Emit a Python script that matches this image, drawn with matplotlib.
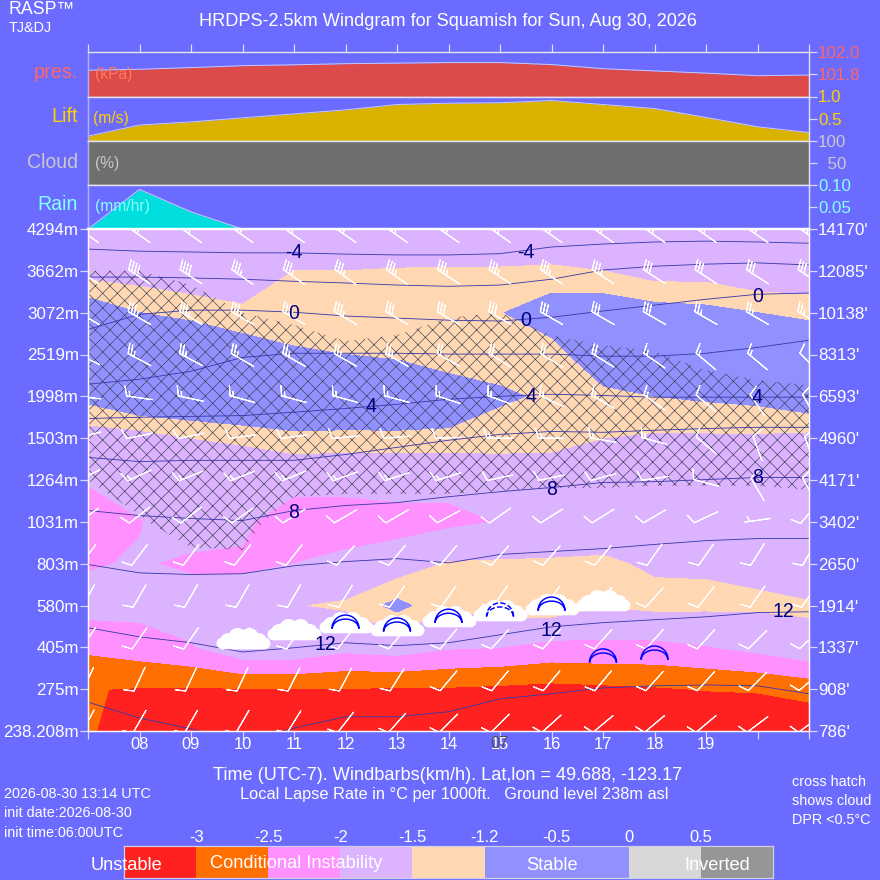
import numpy as np
import matplotlib
matplotlib.use('Agg')
import matplotlib.pyplot as plt
from matplotlib.path import Path
from matplotlib.transforms import Affine2D

hours = [7, 8, 9, 10, 11, 12, 13, 14, 15, 16, 17, 18, 19, 20, 21]
level_index = [0, 1, 2, 3, 4, 5, 6, 7, 8, 9, 10, 11, 12]
height_m = ['238.208m', '275m', '405m', '580m', '803m', '1031m', '1264m', '1503m', '1998m', '2519m', '3072m', '3662m', '4294m']
height_ft = ["786'", "908'", "1337'", "1914'", "2650'", "3402'", "4171'", "4960'", "6593'", "8313'", "10138'", "12085'", "14170'"]
hour_labels = ['', '08', '09', '10', '11', '12', '13', '14', '15', '16', '17', '18', '19', '', '']

pressure = [101.836, 101.845, 101.86, 101.877, 101.885, 101.895, 101.9, 101.905, 101.905, 101.887, 101.85, 101.83, 101.81, 101.787, 101.793]
lift = [0.11, 0.36, 0.43, 0.52, 0.61, 0.70, 0.82, 0.85, 0.86, 0.91, 0.82, 0.73, 0.53, 0.32, 0.19]
cloud = [100, 100, 100, 100, 100, 100, 100, 100, 100, 100, 100, 100, 100, 100, 100]
rain = [0.0, 0.09, 0.039, 0.0, 0.0, 0.0, 0.0, 0.0, 0.0, 0.0, 0.0, 0.0, 0.0, 0.0, 0.0]

# lapse rate, one list per hour, lowest level first
lapse_07 = [-2.9, -2.98, -2.4, -1.8, -2.05, -2.2, -1.97, -1.69, -1.09, -0.9, -0.95, -1.65, -1.8]
lapse_08 = [-3.5, -3.03, -2.25, -1.83, -1.95, -2.03, -1.75, -1.66, -0.82, -0.8, -1.2, -1.68, -1.8]
lapse_09 = [-3.5, -3.05, -2.05, -1.7, -2.1, -1.73, -1.7, -1.5, -0.8, -1.0, -1.25, -1.83, -1.9]
lapse_10 = [-3.5, -3.02, -1.6, -1.7, -2.1, -1.87, -1.75, -1.45, -0.65, -0.95, -1.45, -1.7, -1.9]
lapse_11 = [-3.5, -3.02, -1.6, -1.52, -2.0, -2.4, -1.75, -1.35, -0.5, -1.15, -1.4, -1.5, -1.8]
lapse_12 = [-3.5, -3.02, -1.85, -1.45, -1.85, -2.3, -1.8, -1.35, -0.6, -1.2, -1.4, -1.5, -1.8]
lapse_13 = [-3.5, -3.05, -1.75, -1.1, -1.73, -2.2, -1.78, -1.36, -0.52, -1.3, -1.4, -1.48, -1.8]
lapse_14 = [-3.5, -3.05, -1.95, -1.45, -1.47, -2.1, -1.88, -1.3, -0.9, -1.45, -1.4, -1.47, -1.8]
lapse_15 = [-3.5, -3.1, -2.0, -1.3, -1.45, -1.99, -1.75, -1.36, -1.15, -1.35, -1.22, -1.47, -1.8]
lapse_16 = [-3.5, -3.15, -2.15, -1.25, -1.47, -1.7, -1.7, -1.4, -1.25, -1.35, -0.98, -1.45, -1.8]
lapse_17 = [-3.5, -3.1, -2.13, -1.48, -1.45, -1.7, -1.7, -1.5, -1.3, -0.9, -0.95, -1.5, -1.85]
lapse_18 = [-3.5, -3.05, -2.13, -1.4, -1.55, -1.7, -1.7, -1.55, -1.2, -0.85, -1.05, -1.66, -1.9]
lapse_19 = [-3.5, -2.98, -2.03, -1.42, -1.55, -1.7, -1.7, -1.55, -1.15, -0.9, -1.1, -1.65, -1.9]
lapse_20 = [-3.5, -2.95, -1.85, -1.44, -1.6, -1.7, -1.7, -1.55, -1.1, -0.9, -1.2, -1.8, -1.95]
lapse_21 = [-3.4, -2.82, -1.6, -1.46, -1.8, -1.8, -1.75, -1.6, -0.93, -0.95, -1.26, -1.82, -2.0]
lapse_cols = [lapse_07, lapse_08, lapse_09, lapse_10, lapse_11, lapse_12, lapse_13, lapse_14,
              lapse_15, lapse_16, lapse_17, lapse_18, lapse_19, lapse_20, lapse_21]

# dew point spread, under 0.5 is hatched
dpr_cols = [
    [1, 1, 1, 1, 1, 1, 0.5, 0, 0, 0, 0, 0.5, 1],
    [1, 1, 1, 1, 1, 0.6, 0, 0, 0, 0, 0, 0.5, 1],
    [1, 1, 1, 1, 0.82, 0, 0, 0, 0, 0, 0, 0.75, 1],
    [1, 1, 1, 1, 0.74, 0, 0, 0, 0, 0, 0.5, 1, 1],
    [1, 1, 1, 1, 1, 1.25, 0, 0, 0, 0, 0.71, 1, 1],
    [1, 1, 1, 1, 1, 1.5, 0, 0, 0, 0, 1.56, 2, 2],
    [1, 1, 1, 1, 1, 1.5, 0, 0, 0, 0, 1.08, 2, 2],
    [1, 1, 1, 1, 1, 1.5, 0, 0, 0, 0, 0.57, 2, 2],
    [1, 1, 1, 1, 1, 1.9, 0, 0, 0, 0, 0.5, 2, 2],
    [1, 1, 1, 1, 1, 2.6, 0, 0, 0, 0, 1.1, 2, 2],
    [1, 1, 1, 1, 1, 2.6, 0, 0, 0, 0, 2.3, 2, 2],
    [1, 1, 1, 1, 1, 3.6, 0, 0, 0, 0.45, 1, 2, 2],
    [1, 1, 1, 1, 1, 3.6, 0, 0, 0, 0.8, 1, 2, 2],
    [1, 1, 1, 1, 1, 3.6, 0, 0, 0, 1.3, 2, 2, 2],
    [1, 1, 1, 1, 1, 2.1, 0, 0, 0, 1.9, 2, 2, 2],
]

# isotherm height on the level axis, per hour
iso_m4 = [11.52, 11.47, 11.45, 11.43, 11.43, 11.40, 11.38, 11.38, 11.41, 11.57, 11.64, 11.69, 11.71, 11.69, 11.66]
iso_m2 = [10.85, 10.85, 10.83, 10.80, 10.75, 10.71, 10.66, 10.63, 10.66, 10.80, 11.02, 11.11, 11.16, 11.19, 11.14]
iso_0 = [9.60, 9.96, 10.06, 10.06, 10.01, 9.92, 9.87, 9.82, 9.80, 9.89, 10.04, 10.18, 10.32, 10.44, 10.47]
iso_2 = [8.29, 8.41, 8.60, 8.93, 9.03, 9.03, 9.03, 9.01, 9.01, 9.01, 8.96, 8.96, 9.03, 9.17, 9.34]
iso_4 = [7.47, 7.50, 7.52, 7.54, 7.62, 7.71, 7.81, 7.93, 8.00, 8.05, 8.02, 7.98, 7.98, 7.98, 7.98]
iso_6 = [6.54, 6.44, 6.47, 6.47, 6.47, 6.61, 6.78, 6.95, 7.09, 7.16, 7.14, 7.19, 7.23, 7.26, 7.26]
iso_8 = [5.27, 5.15, 5.08, 5.03, 5.27, 5.39, 5.46, 5.60, 5.72, 5.82, 5.94, 5.96, 6.01, 6.06, 6.06]
iso_10 = [3.98, 3.78, 3.74, 3.76, 3.95, 4.05, 4.12, 4.02, 4.22, 4.29, 4.36, 4.46, 4.55, 4.60, 4.60]
iso_12 = [2.47, 2.25, 2.11, 1.89, 1.99, 2.11, 2.04, 2.11, 2.30, 2.49, 2.59, 2.66, 2.73, 2.83, 2.85]
iso_14 = [0.69, 0.31, 0.05, -0.26, 0.07, 0.34, 0.34, 0.46, 0.77, 0.89, 1.03, 1.08, 1.10, 1.08, 0.89]
isotherms = [iso_m4, iso_m2, iso_0, iso_2, iso_4, iso_6, iso_8, iso_10, iso_12, iso_14]

iso_label_text = ['-4', '-4', '0', '0', '0', '4', '4', '4', '8', '8', '8', '12', '12', '12']
iso_label_hour = [11, 15.5, 11, 15.5, 20, 12.5, 15.6, 20, 11, 16, 20, 11.6, 16, 20.5]
iso_label_level = [11.43, 11.45, 9.97, 9.82, 10.39, 7.76, 8.0, 7.97, 5.22, 5.77, 6.06, 2.06, 2.40, 2.85]

# wind from direction (deg) and speed (km/h), one row per level, one value per hour
wind_dir = [
    [208, 210, 210, 210, 212, 218, 222, 225, 225, 228, 230, 230, 230, 233, 233],
    [205, 205, 205, 205, 207, 208, 212, 220, 220, 220, 220, 222, 222, 225, 230],
    [215, 215, 215, 215, 215, 218, 220, 220, 222, 222, 222, 222, 222, 225, 228],
    [210, 210, 210, 210, 210, 212, 215, 215, 215, 218, 222, 222, 218, 215, 215],
    [217, 217, 217, 218, 218, 222, 220, 220, 222, 222, 220, 215, 215, 212, 210],
    [235, 232, 232, 235, 238, 240, 240, 242, 235, 238, 238, 240, 245, 262, 220],
    [245, 245, 248, 248, 248, 250, 252, 252, 258, 258, 255, 262, 285, 330, 330],
    [255, 258, 258, 262, 262, 265, 265, 268, 270, 270, 280, 285, 310, 340, 340],
    [276, 278, 282, 285, 285, 285, 285, 288, 290, 295, 300, 305, 310, 325, 330],
    [295, 298, 298, 300, 300, 300, 300, 300, 302, 302, 302, 305, 310, 310, 315],
    [300, 300, 300, 300, 300, 300, 300, 300, 300, 300, 300, 300, 300, 300, 300],
    [303, 303, 303, 305, 305, 305, 305, 303, 303, 303, 303, 303, 303, 303, 303],
    [305, 305, 305, 305, 305, 305, 305, 305, 305, 305, 305, 305, 305, 305, 305],
]
wind_speed = [
    [10, 10, 10, 10, 10, 10, 10, 10, 10, 10, 10, 10, 10, 10, 10],
    [10, 10, 10, 10, 10, 10, 10, 10, 10, 10, 10, 10, 10, 10, 10],
    [10, 10, 10, 10, 10, 10, 10, 10, 10, 10, 10, 10, 10, 10, 10],
    [10, 10, 10, 10, 10, 10, 10, 10, 10, 10, 10, 10, 10, 10, 10],
    [10, 10, 10, 10, 10, 10, 10, 10, 10, 10, 10, 10, 10, 10, 10],
    [10, 10, 10, 10, 10, 10, 10, 10, 10, 10, 10, 10, 10, 5, 10],
    [10, 15, 15, 15, 15, 15, 15, 15, 10, 10, 10, 10, 10, 10, 10],
    [10, 10, 10, 10, 10, 10, 10, 10, 15, 15, 15, 15, 10, 10, 10],
    [15, 15, 15, 15, 15, 15, 15, 15, 15, 15, 15, 15, 10, 10, 10],
    [25, 25, 25, 25, 25, 25, 25, 20, 20, 20, 20, 15, 15, 15, 10],
    [35, 35, 35, 35, 35, 35, 30, 30, 30, 30, 30, 30, 25, 25, 25],
    [40, 40, 40, 35, 35, 35, 35, 35, 35, 35, 35, 30, 30, 30, 30],
    [35, 35, 35, 35, 35, 35, 35, 35, 35, 35, 35, 35, 35, 35, 35],
]

cloud_hours = [10, 11, 12, 13, 14, 15, 16, 17]
cloud_levels = [2.23, 2.44, 2.61, 2.54, 2.75, 2.90, 3.04, 3.14]
wave_hours = [12, 13, 14, 16, 17, 18]
wave_levels = [2.61, 2.54, 2.75, 3.04, 1.80, 1.87]
dashed_wave_hours = [15]
dashed_wave_levels = [2.90]

lapse_levels = [-5, -3, -2.5, -2, -1.5, -1.2, 0, 0.5, 2]
lapse_colors = ['#FF2020', '#FF6E00', '#FF90FF', '#DBB3FF', '#FFD8B3', '#9090FF', '#D8D8D8', '#969696']
legend_ticks = ['-3', '-2.5', '-2', '-1.5', '-1.2', '-0.5', '0', '0.5']
legend_colors = ['#FF2020', '#FF6E00', '#FF90FF', '#DBB3FF', '#FFD8B3', '#9090FF', '#9090FF', '#D8D8D8', '#969696']

BG = '#6B6BFF'
TICK_SIZE = 13.9
plt.rcParams['font.family'] = ['Liberation Sans', 'DejaVu Sans']
plt.rcParams['hatch.color'] = '#3A3A50'
plt.rcParams['hatch.linewidth'] = 0.5

fig = plt.figure(figsize=(10, 10), dpi=88, facecolor=BG)


def add_panel(left, top, right, bottom):
    return fig.add_axes([left / 880, 1 - bottom / 880, (right - left) / 880, (bottom - top) / 880])


def put_text(x, y, s, size, color='white', ha='left'):
    fig.text(x / 880, 1 - y / 880, s, fontsize=size, color=color, ha=ha, va='center')


def strip(top, bottom, values, ylim, ticks, ticklabels, fill, textcolor):
    ax = add_panel(88, top, 809, bottom)
    ax.set_facecolor(BG)
    ax.fill_between(hours, ylim[0], values, color=fill, lw=0)
    ax.plot(hours, values, color='#C8C8FF', lw=0.8)
    ax.set_xlim(7, 21)
    ax.set_ylim(ylim)
    ax.set_xticks([])
    ax.yaxis.tick_right()
    ax.set_yticks(ticks)
    ax.set_yticklabels(ticklabels, color=textcolor, fontsize=TICK_SIZE)
    ax.tick_params(axis='y', length=6.5, width=1, color='#D8D8FF', pad=1)
    for side in ['top', 'bottom', 'left', 'right']:
        ax.spines[side].set_color('#E0E0F0')
        ax.spines[side].set_linewidth(1.2)
    ax.spines['left'].set_color('#B0B0F0')
    return ax


red_txt = '#FF6666'
gold_txt = '#FFD000'
grey_txt = '#C8C8C8'
cyan_txt = '#88FFFF'

ax_p = strip(52, 96.5, pressure, (101.6, 102.0), [102.0, 101.8], ['102.0', '101.8'], '#DD4A4A', red_txt)
ax_l = strip(96.5, 141, lift, (0, 1), [1.0, 0.5], ['1.0', '0.5'], '#D9B300', gold_txt)
ax_c = strip(141, 185, cloud, (0, 100), [100, 50], ['100', '  50'], '#6E6E6E', grey_txt)
ax_r = strip(185, 229, rain, (0, 0.1), [0.10, 0.05], ['0.10', '0.05'], '#00DDDD', cyan_txt)

ax_p.xaxis.tick_top()
ax_p.set_xticks(hours)
ax_p.set_xticklabels([])
ax_p.tick_params(axis='x', length=6.5, width=1, color='#E0E0F0')

put_text(78, 72, 'pres.', 16.3, red_txt, 'right')
put_text(78, 117, 'Lift', 16.3, gold_txt, 'right')
put_text(78, 162, 'Cloud', 16, grey_txt, 'right')
put_text(78, 205, 'Rain', 16, cyan_txt, 'right')
put_text(95, 74, '(kPa)', 12.8, '#FF7A5A')
put_text(93, 119, '(m/s)', 12.8, gold_txt)
put_text(95, 163, '(%)', 12.8, grey_txt)
put_text(95, 207, '(mm/hr)', 12.8, cyan_txt)

# main time/height panel
ax = add_panel(88, 229, 809, 731)
ax.set_facecolor(BG)
lapse = np.array(lapse_cols).T
ax.contourf(hours, level_index, lapse, levels=lapse_levels, colors=lapse_colors)
ax.contourf(hours, level_index, np.array(dpr_cols).T, levels=[-1, 0.5], colors='none', hatches=['xx'])

for iso in isotherms:
    ax.plot(hours, iso, color='#3838A8', lw=0.7)

# barbs are centred on the hour, and shifted so the feathered end sits near the level
dir_rad = np.radians(wind_dir)
spd = np.array(wind_speed, dtype=float)
u = -spd * np.sin(dir_rad)
v = -spd * np.cos(dir_rad)
grid_x, grid_y = np.meshgrid(hours, level_index)
ax.barbs(grid_x, grid_y + 0.26 * v / spd, u, v, pivot='middle', length=6.5, color='white', linewidth=0.9,
         sizes=dict(spacing=0.13, height=0.38, width=0.25), zorder=4)

cloud_marker = Path.make_compound_path(
    Path.circle((-0.78, -0.18), 0.22), Path.circle((-0.58, -0.08), 0.28), Path.circle((-0.22, 0.05), 0.34),
    Path.circle((0.22, 0.05), 0.34), Path.circle((0.58, -0.08), 0.28), Path.circle((0.78, -0.18), 0.22),
    Path.unit_rectangle().transformed(Affine2D().scale(1.56, 0.4).translate(-0.78, -0.4)))
ax.scatter(cloud_hours, cloud_levels, marker=cloud_marker, s=1950, c='white', linewidths=0, zorder=5)

arc = Path.arc(0, 180)
wave_marker = Path.make_compound_path(
    arc.transformed(Affine2D().translate(0, -0.5)),
    arc.transformed(Affine2D().scale(0.98, 0.7).translate(0, -0.5)))
ax.scatter(wave_hours, wave_levels, marker=wave_marker, s=490, facecolors='none', edgecolors='#0000FF', linewidths=1.2, zorder=6)
ax.scatter(dashed_wave_hours, dashed_wave_levels, marker=wave_marker, s=490, facecolors='none', edgecolors='#0000FF',
           linewidths=1.2, linestyle='--', zorder=6)

for s, h, lev in zip(iso_label_text, iso_label_hour, iso_label_level):
    ax.text(h, lev, s, color='#000080', fontsize=16, ha='center', va='center', zorder=7)

ax.set_xlim(7, 21)
ax.set_ylim(0, 12)
ax.set_xticks(hours)
ax.set_xticklabels(hour_labels, color='white', fontsize=13.5)
ax.set_yticks(level_index)
ax.set_yticklabels(height_m, color='white', fontsize=TICK_SIZE)
ax.tick_params(axis='both', length=6.5, width=1, color='#D8D8FF', pad=1)
ax.tick_params(axis='x', pad=-1.5)
for side in ['top', 'bottom', 'left', 'right']:
    ax.spines[side].set_color('white')
    ax.spines[side].set_linewidth(1.2)
ax.spines['top'].set_linewidth(2)

ax_ft = ax.twinx()
ax_ft.set_ylim(0, 12)
ax_ft.set_yticks(level_index)
ax_ft.set_yticklabels(height_ft, color='white', fontsize=TICK_SIZE)
ax_ft.tick_params(axis='y', length=6.5, width=1, color='#D8D8FF', pad=1)
ax_ft.patch.set_visible(False)
for side in ['top', 'bottom', 'left', 'right']:
    ax_ft.spines[side].set_visible(False)

# colour key
ax_key = add_panel(124, 846, 773, 878)
key_x = np.arange(len(legend_colors))
ax_key.bar(key_x, [1] * len(legend_colors), width=1, align='edge', color=legend_colors, lw=0)
ax_key.set_xlim(0, len(legend_colors))
ax_key.set_ylim(0, 1)
ax_key.set_xticks(key_x[1:])
ax_key.set_xticklabels(legend_ticks, color='white', fontsize=13.5)
ax_key.xaxis.tick_top()
ax_key.tick_params(axis='x', length=0, pad=1)
ax_key.set_yticks([])
for side in ['top', 'bottom', 'left', 'right']:
    ax_key.spines[side].set_color('#D0D0E8')
    ax_key.spines[side].set_linewidth(1)

put_text(127, 865, 'Unstable', 14.9, ha='center')
put_text(296, 863, 'Conditional Instability', 14.9, ha='center')
put_text(552, 865, 'Stable', 14.9, ha='center')
put_text(717, 865, 'Inverted', 14.9, ha='center')

put_text(9, 9, 'RASP\u2122', 14.5)
put_text(9, 28, 'TJ&DJ', 11.8)
put_text(448, 22, 'HRDPS-2.5km Windgram for Squamish for Sun, Aug 30, 2026', 14.8, ha='center')
put_text(448, 775, 'Time (UTC-7). Windbarbs(km/h). Lat,lon = 49.688, -123.17', 14.8, ha='center')
put_text(454, 794, 'Local Lapse Rate in \u00b0C per 1000ft.   Ground level 238m asl', 13.4, ha='center')
put_text(4, 794, '2026-08-30 13:14 UTC', 11.8)
put_text(4, 813, 'init date:2026-08-30', 11.8)
put_text(4, 833, 'init time:06:00UTC', 11.8)
put_text(792, 782, 'cross hatch', 11.8)
put_text(792, 801, 'shows cloud', 11.8)
put_text(792, 820, 'DPR <0.5\u00b0C', 11.8)
put_text(500, 743, '07', 13.5, '#505050', 'center')

fig.savefig('out.png', dpi=88, facecolor=BG)
